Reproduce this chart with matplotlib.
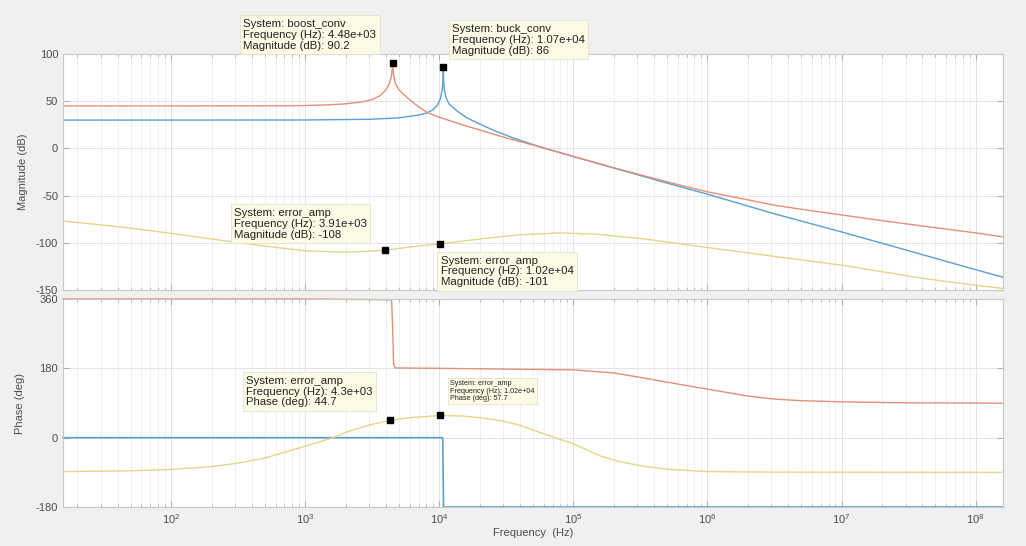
import matplotlib
matplotlib.use("Agg")
import matplotlib.pyplot as plt
from matplotlib.ticker import FixedLocator, LogLocator, NullFormatter

plt.rcParams['font.family'] = ['Liberation Sans', 'DejaVu Sans']
plt.rcParams['axes.unicode_minus'] = False

# ---- magnitude data (Hz, dB) ----
buck_f = [15.6, 100, 1000, 3000, 5000, 7000, 8100, 9000, 9700, 10200, 10500, 10650,
          10700, 10760, 10900, 11200, 11800, 13600, 16000, 20200, 26000, 35700, 5e4,
          1e5, 2e5, 5e5, 1e6, 3.1e6, 1e7, 3e7, 1e8, 1.6e8]
buck_mag = [30, 30, 30.1, 30.8, 32.3, 35.3, 37.6, 41, 46, 53, 62, 72,
            86, 72, 62, 54, 47, 39.5, 32.5, 25.5, 18.5, 11, 4,
            -8.7, -20.8, -36.8, -48.5, -69, -88.5, -107.5, -128.5, -136.5]

boost_f = [15.6, 100, 500, 1000, 1540, 2000, 2700, 3200, 3630, 4000, 4250, 4400, 4450,
           4480, 4510, 4570, 4700, 5000, 5740, 6500, 8100, 1e4, 1.51e4, 2e4, 3e4,
           5e4, 1e5, 2e5, 5e5, 1e6, 2e6, 3.1e6, 5e6, 1e7, 2e7, 4.1e7, 1e8, 1.6e8]
boost_mag = [45, 45, 45.1, 45.4, 46.2, 47.2, 49.5, 52, 56, 62, 69, 77, 84,
             90.2, 84, 77, 69, 62, 54, 47.5, 38, 33, 24.7, 19.5, 12,
             3.5, -8.5, -20.5, -35.5, -46, -54.5, -60, -64.5, -70.5, -76.5, -82.4, -89.5, -93.7]

err_f = [15.6, 30, 50, 100, 200, 500, 1000, 2000, 3910, 6000, 10200, 2e4, 4e4, 8e4,
         1.5e5, 3.16e5, 1e6, 3e6, 1e7, 4.1e7, 1e8, 1.6e8]
err_mag = [-77, -81, -84.5, -90, -96, -103.5, -108.5, -110, -108, -104.5, -101, -96,
           -91.5, -89.5, -91, -95.4, -105, -114, -123.7, -137.8, -145, -148.4]

# ---- phase data (Hz, deg) ----
buck_pf = [15.6, 1e3, 1.06e4, 1.075e4, 1e6, 1.6e8]
buck_ph = [0, 0, 0, -180, -180, -180]

boost_pf = [15.6, 1e3, 4400, 4470, 4560, 4700, 1e4, 1e5, 2e5, 3.2e5, 5e5, 1e6, 2e6,
            3.2e6, 5e6, 1e7, 3e7, 1.6e8]
boost_ph = [360, 360, 358, 300, 190, 181, 180, 176, 168, 156, 144, 126, 108,
            100, 96, 93, 90.5, 89.5]

err_pf = [15.6, 30, 50, 100, 200, 316, 500, 700, 1000, 1620, 2000, 3000, 4300, 6000,
          10200, 1.5e4, 2e4, 3e4, 4e4, 5e4, 7e4, 1e5, 1.6e5, 2.2e5, 3.3e5, 5e5, 1e6,
          3e6, 1.6e8]
err_ph = [-88, -87, -86, -82.5, -75, -66, -53, -38, -22, 0, 14, 33, 44.7, 52,
          57.7, 56, 52, 43, 32, 20, 2, -16, -48, -62, -74, -82, -88,
          -89.5, -90]

freq_ticks = [1e2, 1e3, 1e4, 1e5, 1e6, 1e7, 1e8]

# data tips: (freq, value, text)
mag_tips = [
    (4.48e3, 90.2, "System: boost_conv\nFrequency (Hz): 4.48e+03\nMagnitude (dB): 90.2"),
    (1.07e4, 86, "System: buck_conv\nFrequency (Hz): 1.07e+04\nMagnitude (dB): 86"),
    (3.91e3, -108, "System: error_amp\nFrequency (Hz): 3.91e+03\nMagnitude (dB): -108"),
    (1.02e4, -101, "System: error_amp\nFrequency (Hz): 1.02e+04\nMagnitude (dB): -101"),
]
ph_tips = [
    (4.3e3, 44.7, "System: error_amp\nFrequency (Hz): 4.3e+03\nPhase (deg): 44.7"),
    (1.02e4, 57.7, "System: error_amp\nFrequency (Hz): 1.02e+04\nPhase (deg): 57.7"),
]

BLUE, RED, YEL = "#5a9fd2", "#e58f78", "#e8d486"
BG = "#f0f0f0"
TXT = "#4d4d4d"

fig = plt.figure(figsize=(10.26, 5.46), dpi=100, facecolor=BG)
ax1 = fig.add_axes([0.0614, 0.4689, 0.9162, 0.4322])
ax2 = fig.add_axes([0.0614, 0.0714, 0.9162, 0.3810])

ax1.plot(buck_f, buck_mag, color=BLUE, lw=1.0)
ax1.plot(boost_f, boost_mag, color=RED, lw=1.0)
ax1.plot(err_f, err_mag, color=YEL, lw=1.0)
ax2.plot(buck_pf, buck_ph, color=BLUE, lw=1.2, clip_on=False)
ax2.plot(boost_pf, boost_ph, color=RED, lw=1.0, clip_on=False)
ax2.plot(err_pf, err_ph, color=YEL, lw=1.0)

for ax in (ax1, ax2):
    ax.set_xscale("log")
    ax.set_xlim(15.6, 1.6e8)
    ax.set_facecolor("white")
    ax.xaxis.set_major_locator(FixedLocator(freq_ticks))
    ax.xaxis.set_minor_locator(LogLocator(base=10, subs=range(2, 10), numticks=200))
    ax.xaxis.set_minor_formatter(NullFormatter())
    ax.grid(True, which="major", color="#e3e3e3", lw=0.7)
    ax.grid(True, which="minor", axis="x", color="#eeeeee", lw=0.6)
    ax.set_axisbelow(True)
    ax.tick_params(which="both", direction="in", top=True, right=True,
                   colors="#b0b0b0", labelcolor=TXT, labelsize=8)
    ax.tick_params(which="major", length=4)
    ax.tick_params(which="minor", length=2)
    for s in ax.spines.values():
        s.set_color("#c8c8c8")
        s.set_linewidth(0.8)

ax1.set_ylim(-150, 100)
ax1.set_yticks([-150, -100, -50, 0, 50, 100])
ax1.tick_params(axis="x", labelbottom=False)
ax1.set_ylabel("Magnitude (dB)", color=TXT, fontsize=8, labelpad=6)

ax2.set_ylim(-180, 360)
ax2.set_yticks([-180, 0, 180, 360])
ax2.set_ylabel("Phase (deg)", color=TXT, fontsize=8, labelpad=8)
ax2.set_xlabel("Frequency  (Hz)", color=TXT, fontsize=8, labelpad=2)

box = dict(boxstyle="square,pad=0.3", fc="#fbfbe6", ec="#e2e2cc", lw=0.6)
mag_pos = [(0.192, 1.150), (0.414, 1.128), (0.182, 0.348), (0.402, 0.146)]
for (f, v, t), (px, py) in zip(mag_tips, mag_pos):
    ax1.plot([f], [v], "s", color="black", ms=5, clip_on=False, zorder=6)
    ax1.text(px, py, t, transform=ax1.transAxes, ha="left", va="top", fontsize=8.2,
             color="#222222", linespacing=1.12, bbox=box, zorder=7, clip_on=False)

ph_pos = [(0.195, 0.632), (0.412, 0.61)]
ph_size = [8.2, 5.2]
for (f, v, t), (px, py), fs in zip(ph_tips, ph_pos, ph_size):
    ax2.plot([f], [v], "s", color="black", ms=5, clip_on=False, zorder=6)
    ax2.text(px, py, t, transform=ax2.transAxes, ha="left", va="top", fontsize=fs,
             color="#222222", linespacing=1.12, bbox=box, zorder=7, clip_on=False)

fig.savefig("out.png", dpi=100, facecolor=BG)
